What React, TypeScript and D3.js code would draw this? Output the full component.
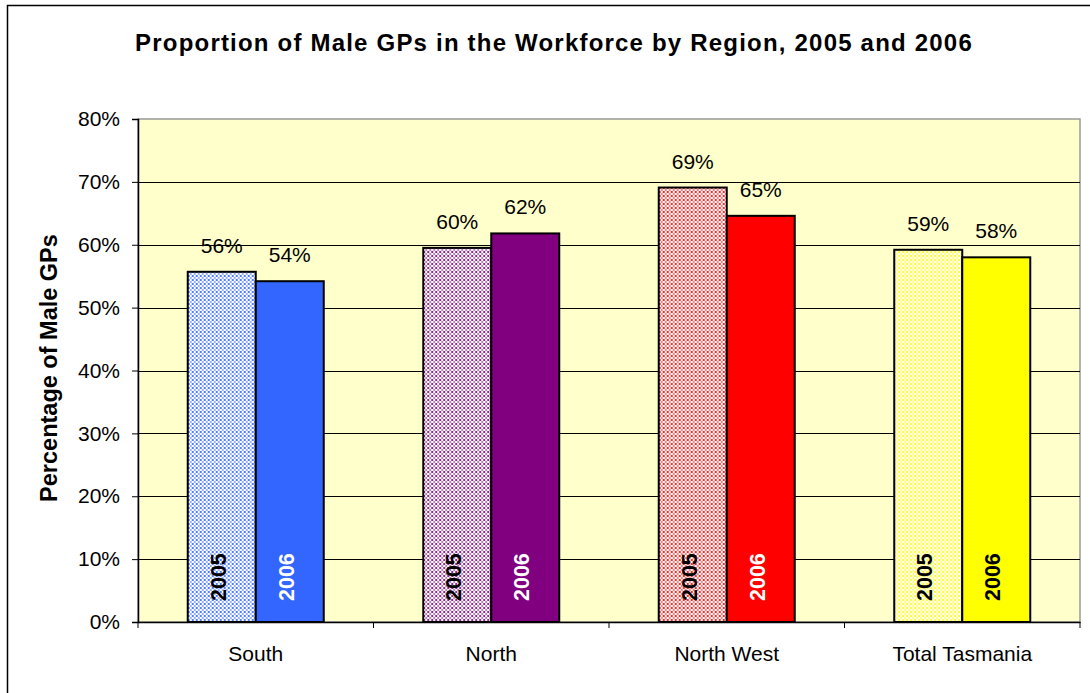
import React, { useEffect, useRef } from 'react';
import * as d3 from 'd3';

const regions = ['South', 'North', 'North West', 'Total Tasmania'];
const years = ['2005', '2006'];
const values2005 = [55.7, 59.5, 69.1, 59.2];
const values2006 = [54.2, 61.8, 64.6, 58.0];
const yTicks = [0, 10, 20, 30, 40, 50, 60, 70, 80];
const solidColors = ['#3366FF', '#800080', '#FF0000', '#FFFF00'];
const yearTextColors2006 = ['#ffffff', '#ffffff', '#ffffff', '#000000'];

const App = () => {
  const ref = useRef<SVGSVGElement>(null);

  useEffect(() => {
    const width = 1090;
    const height = 693;
    const margin = { top: 119, right: 10, bottom: 71, left: 138 };
    const innerW = width - margin.left - margin.right;
    const innerH = height - margin.top - margin.bottom;
    const font = "'Liberation Sans', Arial, sans-serif";

    const svg = d3.select(ref.current);
    svg.selectAll('*').remove();
    svg.attr('width', width).attr('height', height);

    // dotted patterns for the 2005 bars
    const defs = svg.append('defs');
    solidColors.forEach((c, i) => {
      const p = defs.append('pattern')
        .attr('id', `dots${i}`)
        .attr('patternUnits', 'userSpaceOnUse')
        .attr('width', 4)
        .attr('height', 4);
      p.append('rect').attr('width', 4).attr('height', 4).attr('fill', '#ffffff');
      p.append('rect').attr('x', 0).attr('y', 0).attr('width', 2).attr('height', 2).attr('fill', c).attr('opacity', 0.85);
      p.append('rect').attr('x', 2).attr('y', 2).attr('width', 2).attr('height', 2).attr('fill', c).attr('opacity', 0.5);
    });

    svg.append('rect').attr('width', width).attr('height', height).attr('fill', '#fff');
    // outer chart frame
    svg.append('rect')
      .attr('x', 7.5).attr('y', 5.5)
      .attr('width', width).attr('height', height)
      .attr('fill', 'none').attr('stroke', '#000').attr('stroke-width', 1.5);

    svg.append('text')
      .attr('x', 554).attr('y', 51)
      .attr('text-anchor', 'middle')
      .attr('font-family', font).attr('font-weight', 'bold').attr('font-size', 24)
      .attr('letter-spacing', 1.2)
      .text('Proportion of Male GPs in the Workforce by Region, 2005 and 2006');

    const g = svg.append('g').attr('transform', `translate(${margin.left},${margin.top})`);

    const x0 = d3.scaleBand().domain(regions).range([0, innerW]).paddingInner(0.4225).paddingOuter(0.21125);
    const x1 = d3.scaleBand().domain(years).range([0, x0.bandwidth()]);
    const y = d3.scaleLinear().domain([0, 80]).range([innerH, 0]);

    g.append('rect')
      .attr('width', innerW).attr('height', innerH)
      .attr('fill', '#FFFFCC').attr('stroke', '#999').attr('stroke-width', 1.5);

    g.selectAll('.grid').data(yTicks.filter(t => t > 0 && t < 80)).enter().append('line')
      .attr('x1', 0).attr('x2', innerW)
      .attr('y1', d => Math.round(y(d)) + 0.5).attr('y2', d => Math.round(y(d)) + 0.5)
      .attr('stroke', '#000');

    const yAxis = g.append('g')
      .call(d3.axisLeft(y).tickValues(yTicks).tickFormat(d => `${d}%`).tickSize(6).tickPadding(12));
    yAxis.select('.domain').attr('stroke', '#000').attr('stroke-width', 1.5);
    yAxis.selectAll('text').attr('font-family', font).attr('font-size', 21).attr('fill', '#000');

    const xAxis = g.append('g').attr('transform', `translate(0,${innerH})`)
      .call(d3.axisBottom(x0).tickSize(0).tickPadding(24));
    xAxis.select('.domain').attr('stroke', '#000').attr('stroke-width', 1.5);
    xAxis.selectAll('text').attr('font-family', font).attr('font-size', 21).attr('fill', '#000');
    g.selectAll('.xt').data(d3.range(regions.length + 1)).enter().append('line')
      .attr('x1', i => i * x0.step()).attr('x2', i => i * x0.step())
      .attr('y1', innerH).attr('y2', innerH + 6).attr('stroke', '#000');

    const rows = regions.flatMap((r, i) => [
      { region: r, year: '2005', value: values2005[i], fill: `url(#dots${i})`, textColor: '#000' },
      { region: r, year: '2006', value: values2006[i], fill: solidColors[i], textColor: yearTextColors2006[i] },
    ]);

    const bar = g.selectAll('.bar').data(rows).enter().append('g')
      .attr('transform', d => `translate(${(x0(d.region) ?? 0) + (x1(d.year) ?? 0)},0)`);

    bar.append('rect')
      .attr('y', d => y(d.value))
      .attr('width', x1.bandwidth())
      .attr('height', d => innerH - y(d.value))
      .attr('fill', d => d.fill)
      .attr('stroke', '#000').attr('stroke-width', 2);

    bar.append('text')
      .attr('x', x1.bandwidth() / 2).attr('y', d => y(d.value) - 19)
      .attr('text-anchor', 'middle')
      .attr('font-family', font).attr('font-size', 21)
      .text(d => `${Math.round(d.value)}%`);

    bar.append('text')
      .attr('transform', `translate(${x1.bandwidth() / 2 + 4},${innerH - 21}) rotate(-90)`)
      .attr('font-family', font).attr('font-size', 21.5).attr('font-weight', 'bold')
      .attr('fill', d => d.textColor)
      .text(d => d.year);

    svg.append('text')
      .attr('transform', `translate(57,${margin.top + 249}) rotate(-90)`)
      .attr('text-anchor', 'middle')
      .attr('font-family', font).attr('font-size', 23.5).attr('font-weight', 'bold')
      .text('Percentage of Male GPs');
  }, []);

  return (
    <div style={{ position: 'absolute', left: 0, top: 0 }}>
      <svg ref={ref}></svg>
    </div>
  );
};

export default App;
